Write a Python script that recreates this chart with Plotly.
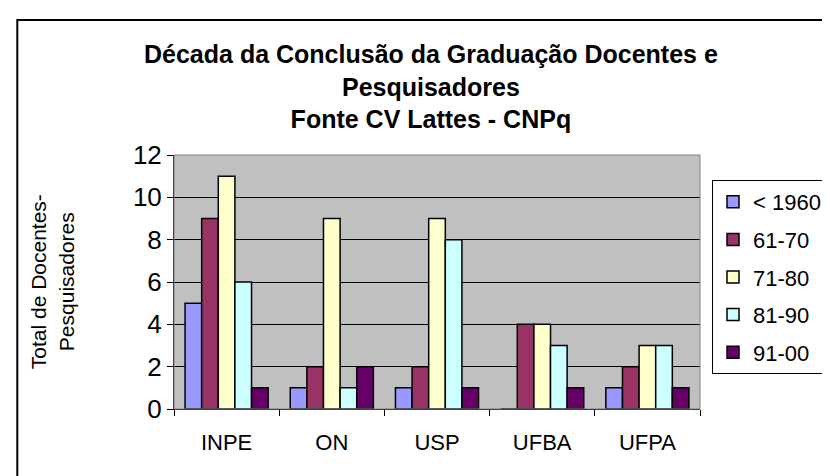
import plotly.graph_objects as go

categories = ["INPE", "ON", "USP", "UFBA", "UFPA"]
series_names = ["< 1960", "61-70", "71-80", "81-90", "91-00"]
values_lt1960 = [5, 1, 1, 0, 1]
values_61_70 = [9, 2, 2, 4, 2]
values_71_80 = [11, 9, 9, 4, 3]
values_81_90 = [6, 1, 8, 3, 3]
values_91_00 = [1, 2, 1, 1, 1]
series_values = [values_lt1960, values_61_70, values_71_80, values_81_90, values_91_00]
colors = ["#9999FF", "#993366", "#FFFFCC", "#CCFFFF", "#660066"]
y_ticks = [0, 2, 4, 6, 8, 10, 12]

FONT = "Liberation Sans, Arial, sans-serif"

fig = go.Figure()
for i, (name, vals) in enumerate(zip(series_names, series_values)):
    fig.add_trace(go.Bar(
        x=categories, y=vals, name=name,
        marker=dict(color=colors[i], line=dict(color="black", width=1.5)),
        legendgroup=name,
    ))

L, R, T, B = 166, 137, 147, 75
W, H = 830, 476
pw, ph = W - L - R, H - T - B

def px2paper_x(px):
    return (px - L) / pw

def px2paper_y(py):
    return (H - B - py) / ph

fig.update_layout(
    width=W, height=H,
    margin=dict(l=L, r=R, t=T, b=B, pad=0),
    paper_bgcolor="white",
    plot_bgcolor="#C0C0C0",
    barmode="group",
    bargap=0.21,
    bargroupgap=0,
    font=dict(family=FONT, color="black"),
    showlegend=True,
    legend=dict(
        x=px2paper_x(704), y=px2paper_y(172), xanchor="left", yanchor="top",
        bgcolor="white", bordercolor="black", borderwidth=1,
        font=dict(size=22, family=FONT),
        traceorder="grouped", tracegroupgap=6,
        itemwidth=30,
    ),
    xaxis=dict(
        showline=True, linecolor="black", linewidth=1,
        ticks="outside", ticklen=6, tickcolor="black", tickson="boundaries",
        tickfont=dict(size=22), showgrid=False, ticklabelstandoff=14,
    ),
    yaxis=dict(
        range=[0, 12], tickvals=y_ticks, showline=True, linecolor="black", linewidth=1,
        ticks="outside", ticklen=6, tickcolor="black",
        tickfont=dict(size=26), showgrid=True, gridcolor="black", gridwidth=1,
        zeroline=False,
    ),
)

# plot-area border (gray) and outer chart frame
fig.add_shape(type="rect", xref="paper", yref="paper", x0=0, x1=1, y0=0, y1=1,
              line=dict(color="#808080", width=1), layer="above")
fig.add_shape(type="rect", xref="paper", yref="paper",
              x0=px2paper_x(9), x1=px2paper_x(840), y0=px2paper_y(490), y1=px2paper_y(12),
              line=dict(color="black", width=2))

fig.add_annotation(
    x=px2paper_x(423), y=px2paper_y(78), xref="paper", yref="paper",
    xanchor="center", yanchor="middle", showarrow=False,
    text="<b>Década da Conclusão da Graduação Docentes e<br>Pesquisadores<br>Fonte CV Lattes - CNPq</b>",
    font=dict(size=25, family=FONT), align="center",
)

fig.add_annotation(
    x=px2paper_x(44), y=0.5, xref="paper", yref="paper",
    xanchor="center", yanchor="middle", showarrow=False, textangle=-90,
    text="Total de Docentes-<br>Pesquisadores",
    font=dict(size=21, family=FONT), align="center",
)

fig.write_html("out.html")
